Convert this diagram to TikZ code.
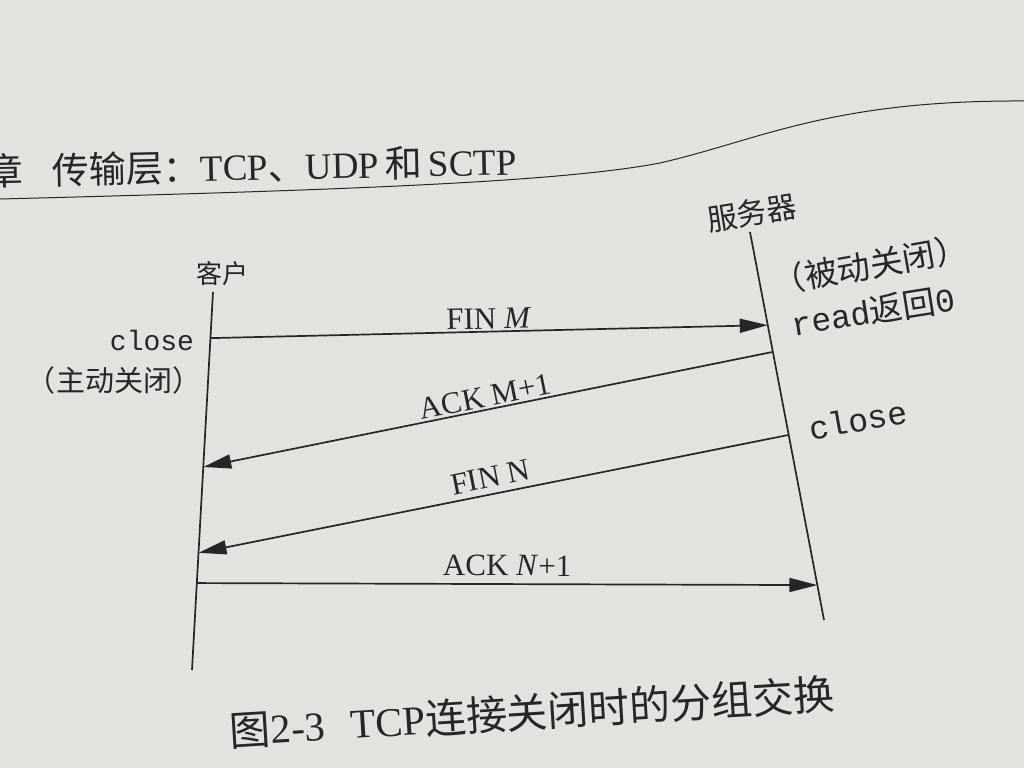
\documentclass[tikz,border=0pt]{standalone}
\usepackage{fontspec}
\setmainfont{Liberation Serif}
\setmonofont{Liberation Mono}
\newfontfamily\cjk{Noto Sans CJK SC}
\usetikzlibrary{arrows.meta,positioning}

\definecolor{paper}{RGB}{226,226,223}
\definecolor{ink}{RGB}{38,38,38}
\newcommand{\fs}[1]{\fontsize{#1}{#1}\selectfont}

\tikzset{
  life/.style={line width=1.7pt,draw=ink},
  msg/.style={line width=1.7pt,draw=ink,-{Triangle[length=28pt,width=14pt]}},
  lbl/.style={text=ink,font=\fs{31pt},inner sep=2pt},
  zh/.style={text=ink,font={\cjk\fs{#1}}},
  code/.style={text=ink,font={\ttfamily\fs{#1}}}
}

\begin{document}
\begin{tikzpicture}[x=1pt,y=-1pt]
% paper and page edge
\fill[paper] (0,0) rectangle (1024,768);
\useasboundingbox (0,0) rectangle (1024,768);
\node[anchor=base west,rotate=1.2,text=ink,font=\fs{37pt}] (head) at (-17,186)
  {\cjk 章\hspace{29pt}传输层：\rmfamily TCP\cjk 、\rmfamily UDP\,\cjk 和\,\rmfamily SCTP};
\draw[ink,line width=1pt] (0,199) .. controls (350,190) and (560,182) .. (660,163)
  .. controls (760,140) and (830,100) .. (1024,101);

% lifelines
\coordinate (c0) at (213,292); \coordinate (c1) at (192,670);
\coordinate (s0) at (750,232); \coordinate (s1) at (824,620);
\draw[life] (c0) -- (c1);
\draw[life] (s0) -- (s1);
\path (c0) -- (c1) coordinate[pos=0.122] (cFinM) coordinate[pos=0.463] (cAckM)
  coordinate[pos=0.690] (cFinN) coordinate[pos=0.770] (cAckN);
\path (s0) -- (s1) coordinate[pos=0.240] (sFinM) coordinate[pos=0.309] (sAckM)
  coordinate[pos=0.523] (sFinN) coordinate[pos=0.910] (sAckN);

% ends
\node[zh=26pt] (client) at (222,274) {客户};
\node[zh=30pt,rotate=9] (server) at (752,213) {服务器};

% segments
\draw[msg] (cFinM) -- node[lbl,above,sloped] {FIN \textit{M}} (sFinM);
\draw[msg] (sAckM) -- node[lbl,above,sloped] {ACK M+1} (cAckM);
\draw[msg] (sFinN) -- node[lbl,above=4pt,sloped] {FIN N} (cFinN);
\draw[msg] (cAckN) -- node[lbl,above=5pt,sloped] {ACK \textit{N}+1} (sAckN);

% calls
\node[code=28pt] (cclose) at (152,340) {close};
\node[zh=29pt] (cact) at (114,380) {（主动关闭）};
\node[zh=33pt,rotate=10] (spas) at (870,265) {（被动关闭）};
\node[text=ink,rotate=9] (sread) at (873,311) {\ttfamily\fs{33pt}read\cjk 返回\ttfamily 0};
\node[code=33pt,rotate=10] (sclose) at (858,420) {close};

% caption
\node[text=ink,rotate=3.5,font=\fs{41pt}] (cap) at (532,712)
  {\cjk 图\rmfamily 2-3\hspace{25pt}TCP\cjk 连接关闭时的分组交换};
\end{tikzpicture}
\end{document}
